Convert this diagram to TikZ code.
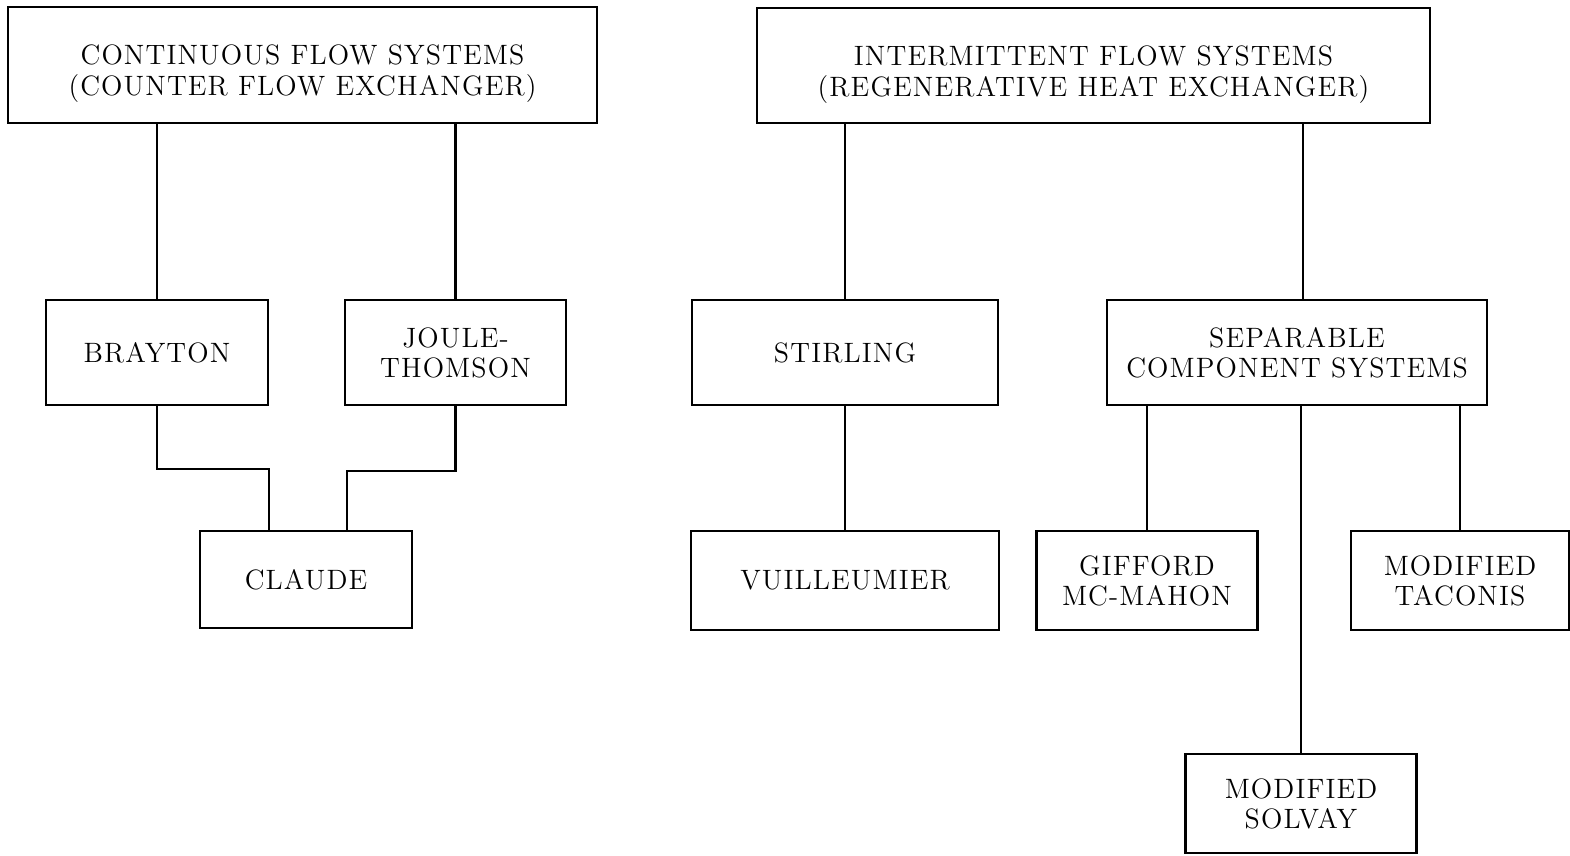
\documentclass[tikz,border=0pt]{standalone}
\usepackage{fontspec}
\setmainfont[LetterSpace=4]{Latin Modern Roman}
\usepackage{tikz}
\usetikzlibrary{positioning,calc}
\newcommand{\capgap}{\rule{0pt}{19pt}}

\begin{document}
\begin{tikzpicture}[x=0.5pt,y=-0.5pt,
  every node/.style={font=\fontsize{14}{15}\selectfont},
  sysbox/.style={draw,line width=1.2pt,align=center,inner sep=0pt},
  topbox/.style={sysbox,font=\fontsize{14}{15.5}\selectfont},
  link/.style={line width=1.2pt}]
\useasboundingbox (0,0) rectangle (1570,856);
% top level
\node[topbox,minimum width=294.5pt,minimum height=58pt] (cont) at (302.5,65)
  {\capgap CONTINUOUS FLOW SYSTEMS\\(COUNTER FLOW EXCHANGER)};
\node[topbox,minimum width=336.5pt,minimum height=57.5pt] (inter) at (1093.5,65.5)
  {\capgap INTERMITTENT FLOW SYSTEMS\\(REGENERATIVE HEAT EXCHANGER)};
% continuous flow branch
\node[sysbox,minimum width=111pt,minimum height=52.5pt] (brayton) at (157,352.5) {BRAYTON};
\node[sysbox,minimum width=110.5pt,minimum height=52.5pt] (joule) at (455.5,352.5) {JOULE-\\THOMSON};
\node[sysbox,minimum width=106pt,minimum height=48.5pt] (claude) at (306,579.5) {CLAUDE};
% intermittent flow branch
\node[sysbox,minimum width=153pt,minimum height=52.5pt] (stirling) at (845,352.5) {STIRLING};
\node[sysbox,minimum width=190pt,minimum height=52.5pt] (separ) at (1297,352.5)
  {SEPARABLE\\COMPONENT SYSTEMS};
\node[sysbox,minimum width=154pt,minimum height=49.5pt] (vuill) at (845,580.5) {VUILLEUMIER};
\node[sysbox,minimum width=110.5pt,minimum height=49.5pt] (gifford) at (1147,580.5)
  {GIFFORD\\MC-MAHON};
\node[sysbox,minimum width=109pt,minimum height=49.5pt] (taconis) at (1460,580.5)
  {MODIFIED\\TACONIS};
\node[sysbox,minimum width=115.5pt,minimum height=49.5pt] (solvay) at (1301,803.5)
  {MODIFIED\\SOLVAY};
% connectors
\draw[link] (brayton.north) -- (brayton.north |- cont.south);
\draw[link] (joule.north) -- (joule.north |- cont.south);
\draw[link] (brayton.south) -- ++(0,63) -| ([xshift=-18.5pt]claude.north);
\draw[link] (joule.south) -- ++(0,65) -| ([xshift=20.5pt]claude.north);
\draw[link] (stirling.north) -- (stirling.north |- inter.south);
\draw[link] ([xshift=3pt]separ.north) -- ([xshift=3pt]separ.north |- inter.south);
\draw[link] (stirling.south) -- (vuill.north);
\draw[link] (gifford.north) -- (gifford.north |- separ.south);
\draw[link] (solvay.north) -- (solvay.north |- separ.south);
\draw[link] (taconis.north) -- (taconis.north |- separ.south);
\end{tikzpicture}
\end{document}
